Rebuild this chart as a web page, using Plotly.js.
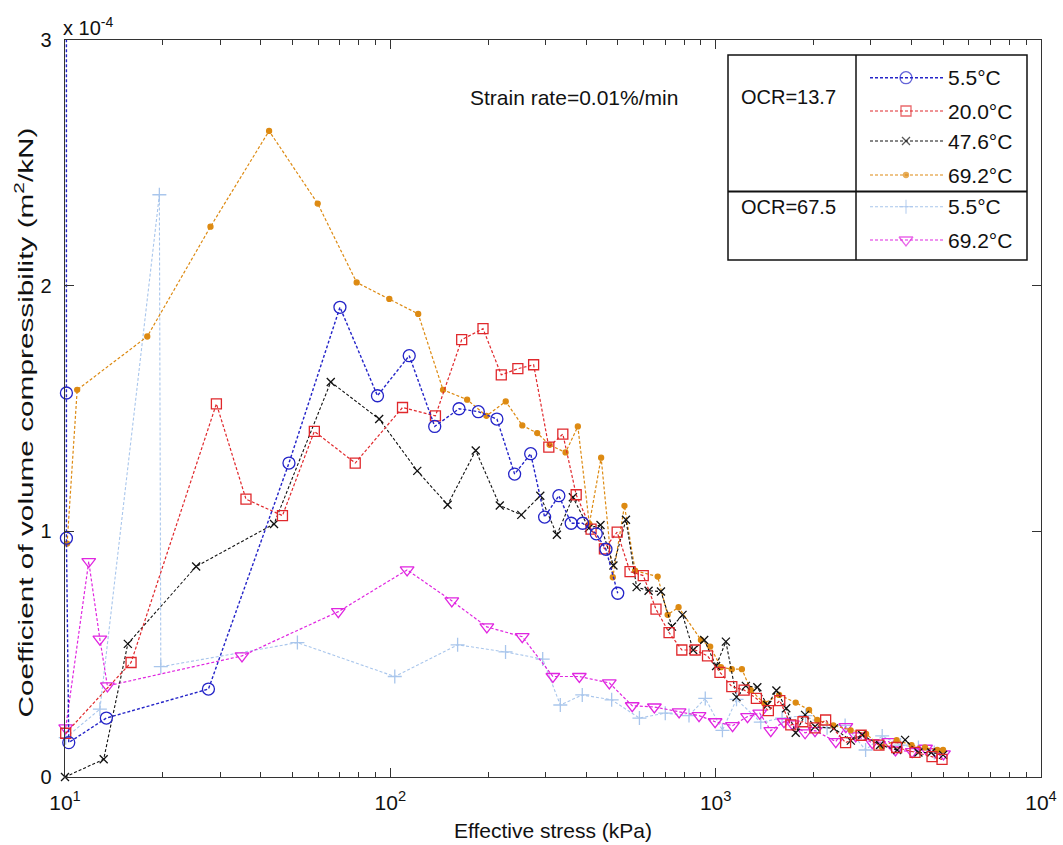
<!DOCTYPE html>
<html>
<head>
<meta charset="utf-8">
<script src="https://cdn.plot.ly/plotly-3.0.1.min.js"></script>
<style>html,body{margin:0;padding:0;background:#fff;}#chart{width:1063px;height:845px;}</style>
</head>
<body>
<div id="chart"></div>
<script>
// values in units of 1e-4 m2/kN
const SCALE = 1e-4;

const ocr13_t55_x = [10.1, 10.1, 10.1, 10.27, 13.4, 27.6, 48.8, 70.0, 91.3, 114.3, 136.9, 162.6, 186.4, 212.6, 241, 270, 298, 329.6, 359.7, 390, 429.5, 460, 500];
const ocr13_t55_y = [4.0, 1.563, 0.972, 0.14, 0.24, 0.358, 1.278, 1.912, 1.552, 1.715, 1.427, 1.499, 1.487, 1.457, 1.233, 1.316, 1.058, 1.145, 1.033, 1.033, 0.99, 0.927, 0.748];

const ocr13_t20_x = [10.05, 15.96, 29.2, 36.0, 46.6, 58.4, 78.0, 109, 137.6, 165.7, 192.7, 219.3, 246.6, 275.7, 307, 339, 372.6, 414, 455, 498, 545.5, 599, 655.5, 719, 787, 865, 944, 1031, 1121, 1223, 1334, 1452, 1574, 1702, 1855, 2020, 2178, 2508, 2800, 3176, 3600, 4100, 4624, 4964];
const ocr13_t20_y = [0.178, 0.466, 1.519, 1.131, 1.064, 1.407, 1.278, 1.504, 1.47, 1.78, 1.825, 1.637, 1.662, 1.678, 1.343, 1.396, 1.149, 1.009, 0.929, 0.997, 0.836, 0.82, 0.683, 0.588, 0.517, 0.517, 0.493, 0.426, 0.368, 0.354, 0.32, 0.27, 0.311, 0.212, 0.225, 0.2, 0.232, 0.14, 0.17, 0.13, 0.12, 0.10, 0.083, 0.072];

const ocr13_t476_x = [10.0, 13.15, 15.6, 25.3, 43.9, 65.6, 92.4, 121, 150, 183, 217, 252.6, 289, 325, 364, 407.5, 442.6, 485, 530, 571.5, 622, 679, 734, 791, 853, 922, 1003, 1075, 1159, 1238, 1343, 1441, 1537, 1648, 1762, 1883, 2020, 2310, 2603, 2820, 3200, 3614, 3822, 4200, 4600, 5000];
const ocr13_t476_y = [0.0, 0.072, 0.542, 0.857, 1.03, 1.608, 1.457, 1.246, 1.108, 1.329, 1.105, 1.067, 1.145, 0.986, 1.139, 1.013, 1.026, 0.861, 1.047, 0.773, 0.758, 0.755, 0.612, 0.66, 0.517, 0.558, 0.452, 0.551, 0.325, 0.371, 0.365, 0.293, 0.352, 0.28, 0.18, 0.253, 0.205, 0.198, 0.148, 0.171, 0.13, 0.11, 0.151, 0.10, 0.10, 0.09];

const ocr13_t692_x = [10.15, 10.9, 17.9, 28.0, 42.4, 59.8, 78.8, 99.3, 121.8, 145.2, 172.2, 197.4, 226.3, 254.5, 282.8, 308.8, 345.6, 377, 409, 444.6, 482.8, 524.4, 565.5, 663.4, 711.8, 769, 901, 962, 1038, 1121, 1204, 1282, 1409, 1567, 1762, 1937, 2052, 2300, 2600, 2900, 3237, 3600, 4000, 4400, 4800, 5000];
const ocr13_t692_y = [0.95, 1.576, 1.793, 2.24, 2.63, 2.334, 2.013, 1.946, 1.885, 1.576, 1.536, 1.470, 1.529, 1.431, 1.40, 1.352, 1.321, 1.427, 1.03, 1.30, 0.813, 1.104, 0.840, 0.816, 0.66, 0.691, 0.558, 0.531, 0.447, 0.439, 0.439, 0.354, 0.30, 0.334, 0.303, 0.273, 0.232, 0.21, 0.19, 0.175, 0.123, 0.15, 0.13, 0.12, 0.11, 0.11];

const ocr67_t55_x = [10.05, 12.8, 19.5, 19.7, 51.8, 103.2, 161, 226, 294, 333, 389, 479, 583, 700, 828, 929, 1049, 1159, 1376, 1600, 1890, 2200, 2500, 2890, 3250, 3700, 4200, 4700];
const ocr67_t55_y = [0.16, 0.276, 2.37, 0.449, 0.547, 0.409, 0.538, 0.509, 0.48, 0.293, 0.334, 0.314, 0.24, 0.26, 0.25, 0.32, 0.19, 0.316, 0.223, 0.24, 0.25, 0.2, 0.21, 0.11, 0.167, 0.13, 0.12, 0.1];

const ocr67_t692_x = [10.05, 11.83, 12.8, 13.5, 35.0, 69.2, 112.6, 154.5, 198, 254.4, 316, 381, 471, 554, 648, 772, 889, 996, 1127, 1253, 1366, 1477, 1622, 1721, 1883, 2020, 2340, 2513, 2694, 3030, 3407, 3570, 4018, 4417, 4738, 5015];
const ocr67_t692_y = [0.2, 0.877, 0.561, 0.371, 0.493, 0.673, 0.843, 0.717, 0.611, 0.571, 0.409, 0.409, 0.383, 0.29, 0.285, 0.265, 0.25, 0.225, 0.209, 0.246, 0.26, 0.189, 0.225, 0.216, 0.18, 0.189, 0.144, 0.205, 0.167, 0.14, 0.144, 0.11, 0.103, 0.117, 0.103, 0.094];

const seriesLabels = ['5.5°C', '20.0°C', '47.6°C', '69.2°C', '5.5°C', '69.2°C'];
const groupLabels = ['OCR=13.7', 'OCR=67.5'];
const xTickVals = [10, 100, 1000, 10000];
const xTickText = ['10<sup>1</sup>', '10<sup>2</sup>', '10<sup>3</sup>', '10<sup>4</sup>'];
const yTickVals = [0, 1, 2, 3];
const yTickText = ['0', '1', '2', '3'];

const FONT = 'Liberation Sans, Arial, sans-serif';
const styles = [
  {color: '#2424c8', symbol: 'circle-open', size: 12, lw: 1.4},
  {color: '#e0282c', symbol: 'square-open', size: 10, lw: 1.2},
  {color: '#111111', symbol: 'x-thin-open', size: 8, lw: 1.1},
  {color: '#dd8a12', symbol: 'circle', size: 5, lw: 1.2},
  {color: '#a9c6ec', symbol: 'cross-thin-open', size: 10, lw: 1.1},
  {color: '#e026e0', symbol: 'triangle-down-open', size: 12, lw: 1.2}
];
const seriesX = [ocr13_t55_x, ocr13_t20_x, ocr13_t476_x, ocr13_t692_x, ocr67_t55_x, ocr67_t692_x];
const seriesY = [ocr13_t55_y, ocr13_t20_y, ocr13_t476_y, ocr13_t692_y, ocr67_t55_y, ocr67_t692_y];

// plot area in pixels
const L = 65, R = 1041, T = 40, B = 777;
const W = 1063, H = 845;

const traces = [];
const order = [4, 5, 3, 2, 1, 0];
order.forEach(i => {
  const s = styles[i];
  traces.push({
    x: seriesX[i], y: seriesY[i].map(v => v * SCALE),
    type: 'scatter', mode: 'lines+markers', showlegend: false, cliponaxis: false,
    line: {color: s.color, width: s.lw, dash: '3px,2px'},
    marker: {symbol: s.symbol, size: s.size, color: s.color, line: {color: s.color, width: 1.3}}
  });
});

// legend samples (drawn on a pixel-coordinate overlay axis)
const rowY = [77.7, 111, 141, 175, 206.7, 240];
seriesLabels.forEach((lab, i) => {
  const s = styles[i];
  traces.push({
    x: [870, 906, 943], y: [rowY[i], rowY[i], rowY[i]], xaxis: 'x2', yaxis: 'y2',
    type: 'scatter', mode: 'lines+markers', showlegend: false, hoverinfo: 'skip', cliponaxis: false,
    line: {color: s.color, width: s.lw, dash: '3px,2px'},
    marker: {symbol: s.symbol, size: [0, s.size, 0], color: s.color, line: {color: s.color, width: 1.3}}
  });
});

const px = v => (v - L) / (R - L);
const py = v => (B - v) / (B - T);

const minorVals = [];
for (let d = 10; d < 10000; d *= 10) for (let k = 2; k <= 9; k++) minorVals.push(k * d);

const annotations = [
  {xref: 'paper', yref: 'paper', x: px(61), y: py(12), xanchor: 'left', yanchor: 'top', showarrow: false,
   text: 'x 10<sup>-4</sup>', font: {family: FONT, size: 20, color: '#111'}},
  {xref: 'paper', yref: 'paper', x: px(574), y: py(98), xanchor: 'center', yanchor: 'middle', showarrow: false,
   text: 'Strain rate=0.01%/min', font: {family: FONT, size: 21, color: '#111'}},
  {xref: 'paper', yref: 'paper', x: px(739), y: py(97), xanchor: 'left', yanchor: 'middle', showarrow: false,
   text: groupLabels[0], font: {family: FONT, size: 20, color: '#111'}},
  {xref: 'paper', yref: 'paper', x: px(739), y: py(207), xanchor: 'left', yanchor: 'middle', showarrow: false,
   text: groupLabels[1], font: {family: FONT, size: 20, color: '#111'}}
];
seriesLabels.forEach((lab, i) => {
  annotations.push({xref: 'paper', yref: 'paper', x: px(946), y: py(rowY[i]), xanchor: 'left', yanchor: 'middle',
    showarrow: false, text: lab, font: {family: FONT, size: 21, color: '#111'}});
});

const shapes = [
  {type: 'rect', xref: 'paper', yref: 'paper', x0: px(728), x1: px(1027), y0: py(55), y1: py(260),
   line: {color: '#111', width: 1.5}, fillcolor: '#fff', layer: 'below'},
  {type: 'line', xref: 'paper', yref: 'paper', x0: px(856), x1: px(856), y0: py(55), y1: py(260),
   line: {color: '#111', width: 1.5}, layer: 'below'},
  {type: 'line', xref: 'paper', yref: 'paper', x0: px(728), x1: px(1027), y0: py(191.5), y1: py(191.5),
   line: {color: '#111', width: 2.2}, layer: 'below'}
];

const layout = {
  width: W, height: H,
  margin: {l: L, r: W - R, t: T, b: H - B},
  paper_bgcolor: '#fff', plot_bgcolor: '#fff',
  font: {family: FONT, size: 18, color: '#111'},
  xaxis: {
    type: 'log', range: [1, 4], tickmode: 'array', tickvals: xTickVals, ticktext: xTickText,
    ticks: 'inside', ticklen: 9, tickwidth: 1.2, tickcolor: '#333',
    showline: true, linecolor: '#333', linewidth: 1.4, mirror: 'allticks',
    showgrid: false, zeroline: false, ticklabelstandoff: 6,
    minor: {tickmode: 'array', tickvals: minorVals, ticks: 'inside', ticklen: 5, tickwidth: 1, tickcolor: '#333', showgrid: false},
    tickfont: {family: FONT, size: 21, color: '#111'},
    title: {text: 'Effective stress (kPa)', font: {family: FONT, size: 21, color: '#111'}, standoff: 10}
  },
  yaxis: {
    range: [0, 3 * SCALE], tickmode: 'array', tickvals: yTickVals.map(v => v * SCALE), ticktext: yTickText,
    ticks: 'inside', ticklen: 9, tickwidth: 1.2, tickcolor: '#333',
    showline: true, linecolor: '#333', linewidth: 1.4, mirror: 'allticks',
    showgrid: false, zeroline: false, ticklabelstandoff: 8,
    tickfont: {family: FONT, size: 20, color: '#111'},
    title: {text: 'Coefficient of volume compressibility (m<sup>2</sup>/kN)', font: {family: FONT, size: 21, color: '#111'}, standoff: 1}
  },
  xaxis2: {overlaying: 'x', range: [L, R], visible: false, fixedrange: true},
  yaxis2: {overlaying: 'y', range: [B, T], visible: false, fixedrange: true},
  shapes: shapes,
  annotations: annotations,
  showlegend: false
};

Plotly.newPlot('chart', traces, layout, {staticPlot: true}).then(gd => {
  // the reference's vertical title is drawn elongated along its baseline
  const t = gd.querySelector('.g-ytitle text');
  if (t) {
    t.setAttribute('textLength', '590');
    t.setAttribute('lengthAdjust', 'spacingAndGlyphs');
  }
  const g = gd.querySelector('.g-ytitle');
  if (g) g.setAttribute('transform', 'translate(0,14)');
});
</script>
</body>
</html>
